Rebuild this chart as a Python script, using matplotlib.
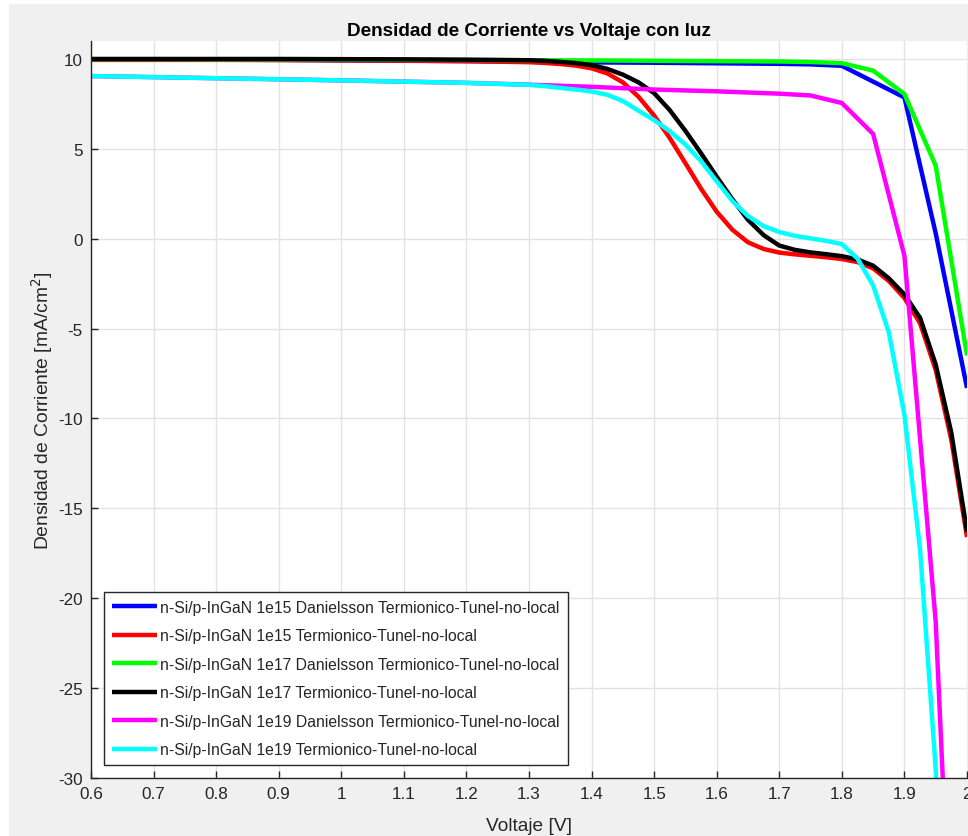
import matplotlib
matplotlib.use("Agg")
import matplotlib.pyplot as plt
from matplotlib.patches import Rectangle

# ---- data -------------------------------------------------------------
# Danielsson model curves (coarse voltage sweep)
v_dan = [0.6, 0.7, 0.8, 0.9, 1.0, 1.1, 1.2, 1.3, 1.4, 1.5, 1.6, 1.7,
         1.75, 1.8, 1.85, 1.9, 1.95, 2.0]
j_1e15_dan = [9.98, 9.97, 9.96, 9.95, 9.92, 9.9, 9.88, 9.85, 9.81, 9.79,
              9.76, 9.73, 9.7, 9.62, 8.74, 7.86, 0.3, -8.3]
j_1e17_dan = [9.99, 9.99, 9.98, 9.98, 9.97, 9.96, 9.95, 9.93, 9.92, 9.9,
              9.88, 9.86, 9.83, 9.77, 9.35, 8.05, 4.06, -6.5]
j_1e19_dan = [9.05, 8.99, 8.93, 8.87, 8.81, 8.74, 8.67, 8.57, 8.45, 8.3,
              8.2, 8.07, 7.97, 7.55, 5.83, -0.95, -21.3, -60.0]

# Thermionic / non-local tunnelling curves (finer voltage sweep)
v_ter = [0.6, 0.7, 0.8, 0.9, 1.0, 1.1, 1.2, 1.3, 1.325, 1.35, 1.375, 1.4,
         1.425, 1.45, 1.475, 1.5, 1.525, 1.55, 1.575, 1.6, 1.625, 1.65,
         1.675, 1.7, 1.725, 1.75, 1.775, 1.8, 1.825, 1.85, 1.875, 1.9,
         1.925, 1.95, 1.975, 2.0]
j_1e15_ter = [9.95, 9.95, 9.95, 9.94, 9.93, 9.91, 9.88, 9.82, 9.78, 9.72,
              9.63, 9.48, 9.2, 8.7, 7.9, 6.85, 5.6, 4.2, 2.78, 1.5, 0.5,
              -0.2, -0.57, -0.77, -0.87, -0.95, -1.03, -1.13, -1.3, -1.65,
              -2.35, -3.3, -4.7, -7.3, -11.2, -16.6]
j_1e17_ter = [10.0, 10.0, 10.0, 10.0, 9.99, 9.98, 9.96, 9.93, 9.9, 9.84,
              9.77, 9.66, 9.45, 9.13, 8.7, 8.1, 7.15, 6.0, 4.75, 3.45, 2.2,
              1.05, 0.2, -0.38, -0.62, -0.76, -0.86, -0.97, -1.15, -1.5,
              -2.2, -3.1, -4.4, -7.0, -10.8, -16.3]
j_1e19_ter = [9.05, 8.99, 8.93, 8.87, 8.81, 8.74, 8.67, 8.56, 8.49, 8.39,
              8.3, 8.19, 8.01, 7.66, 7.12, 6.6, 5.98, 5.24, 4.31, 3.2, 2.1,
              1.26, 0.7, 0.37, 0.16, 0.02, -0.12, -0.3, -1.1, -2.6, -5.2,
              -9.8, -17.3, -29.5, -48.0, -70.0]

series_labels = [
    "n-Si/p-InGaN 1e15 Danielsson Termionico-Tunel-no-local",
    "n-Si/p-InGaN 1e15 Termionico-Tunel-no-local",
    "n-Si/p-InGaN 1e17 Danielsson Termionico-Tunel-no-local",
    "n-Si/p-InGaN 1e17 Termionico-Tunel-no-local",
    "n-Si/p-InGaN 1e19 Danielsson Termionico-Tunel-no-local",
    "n-Si/p-InGaN 1e19 Termionico-Tunel-no-local",
]
x_ticks = [0.6, 0.7, 0.8, 0.9, 1.0, 1.1, 1.2, 1.3, 1.4, 1.5, 1.6, 1.7,
           1.8, 1.9, 2.0]
x_tick_labels = ["0.6", "0.7", "0.8", "0.9", "1", "1.1", "1.2", "1.3",
                 "1.4", "1.5", "1.6", "1.7", "1.8", "1.9", "2"]
y_ticks = [-30, -25, -20, -15, -10, -5, 0, 5, 10]
y_tick_labels = ["-30", "-25", "-20", "-15", "-10", "-5", "0", "5", "10"]

# ---- style ------------------------------------------------------------
plt.rcParams["font.family"] = ["Liberation Sans", "DejaVu Sans"]
plt.rcParams["axes.unicode_minus"] = False
ink = "#262626"

W, H = 968, 837
fig = plt.figure(figsize=(W / 100, H / 100), dpi=100, facecolor="#f0f0f0")
# thin white margins along the top and left edges
fig.patches.append(Rectangle((0, 1 - 5 / H), 1, 5 / H, transform=fig.transFigure,
                             facecolor="white", edgecolor="none", zorder=0))
fig.patches.append(Rectangle((0, 0), 9 / W, 1, transform=fig.transFigure,
                             facecolor="white", edgecolor="none", zorder=0))

ax_l, ax_r, ax_t, ax_b = 91, 967, 42, 779
ax = fig.add_axes([ax_l / W, 1 - ax_b / H, (ax_r - ax_l) / W, (ax_b - ax_t) / H])
ax.set_facecolor("white")

lw = 3.2
curves = [
    (v_dan, j_1e15_dan, (0, 0, 1)),
    (v_ter, j_1e15_ter, (1, 0, 0)),
    (v_dan, j_1e17_dan, (0, 1, 0)),
    (v_ter, j_1e17_ter, (0, 0, 0)),
    (v_dan, j_1e19_dan, (1, 0, 1)),
    (v_ter, j_1e19_ter, (0, 1, 1)),
]
for (v, j, c), lab in zip(curves, series_labels):
    ax.plot(v, j, color=c, lw=lw, label=lab, solid_capstyle="butt",
            solid_joinstyle="round")

ax.set_xlim(0.6, 2.0)
ax.set_ylim(-30, 11)
ax.set_xticks(x_ticks)
ax.set_xticklabels(x_tick_labels)
ax.set_yticks(y_ticks)
ax.set_yticklabels(y_tick_labels)

ax.grid(True, color="#e2e2e2", lw=1.0)
ax.set_axisbelow(True)
for s in ("top", "right"):
    ax.spines[s].set_visible(False)
for s in ("left", "bottom"):
    ax.spines[s].set_color(ink)
    ax.spines[s].set_linewidth(1.0)
ax.tick_params(direction="in", length=5, width=1.0, color=ink,
               labelcolor=ink, labelsize=12.3)
ax.tick_params(axis="y", pad=6)
ax.tick_params(axis="x", pad=6)

ax.set_title("Densidad de Corriente vs Voltaje con luz", fontsize=13.6,
             fontweight="bold", color="black", pad=4)
ax.set_xlabel("Voltaje [V]", fontsize=13.8, color=ink, labelpad=11)
ax.set_ylabel("Densidad de Corriente [mA/cm$^2$]", fontsize=13.9,
              color=ink, labelpad=2)

leg = ax.legend(loc="lower left", bbox_to_anchor=((104 - ax_l) / (ax_r - ax_l),
                                                  (ax_b - 766) / (ax_b - ax_t)),
                borderaxespad=0, fontsize=11.3, frameon=True, fancybox=False,
                handlelength=2.9, handletextpad=0.2, labelspacing=0.86,
                borderpad=0.5, framealpha=1.0, edgecolor=ink)
leg.get_frame().set_linewidth(1.0)
for t in leg.get_texts():
    t.set_color(ink)

fig.savefig("out.png", dpi=100, facecolor=fig.get_facecolor())
